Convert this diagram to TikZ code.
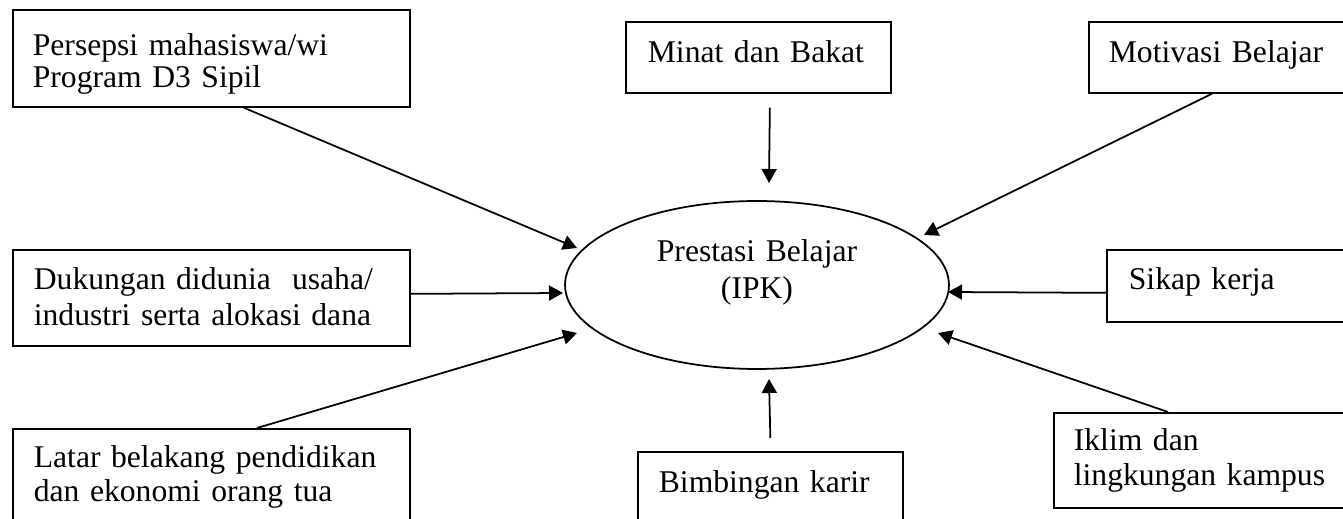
\documentclass[tikz,border=0pt]{standalone}
\usepackage{fontspec}
\setmainfont{Liberation Serif}
\usetikzlibrary{shapes.geometric, arrows.meta}

\begin{document}
\begin{tikzpicture}[x=0.02cm, y=-0.02cm,
  factor/.style={draw, line width=1pt, anchor=north west, align=left,
    inner ysep=0pt, font=\fontsize{18pt}{20pt}\selectfont},
  target/.style={draw, ellipse, line width=1pt, inner sep=0pt,
    minimum width=7.68cm, minimum height=3.36cm, text width=4.5cm,
    align=center, text height=0.5cm, text depth=1.42cm,
    font=\fontsize{18pt}{20.5pt}\selectfont},
  arr/.style={line width=1pt, -{Triangle[length=0.28cm, width=0.3cm]}}]

  % Frame of the picture
  \path[use as bounding box, fill=white] (0,0) rectangle (1343,519);
  \clip (0,0) rectangle (1343,519);

  % Central ellipse
  \node[target] (ipk) at (757,285) {Prestasi Belajar\\(IPK)};

  % Boxes on the left
  \node[factor, text width=7.14cm, inner xsep=0.4cm, text height=0.92cm, text depth=1.02cm,
    font=\fontsize{18pt}{18pt}\selectfont] (persepsi) at (12,9)
    {Persepsi mahasiswa/wi\\Program D3 Sipil};
  \node[factor, text width=7.1cm, inner xsep=0.42cm, text height=0.8cm, text depth=1.12cm,
    font=\fontsize{18pt}{20.5pt}\selectfont] (dukungan) at (12,249)
    {Dukungan didunia\ \ usaha/\\industri serta alokasi dana};
  \node[factor, text width=7.1cm, inner xsep=0.42cm, text height=0.78cm, text depth=1.46cm,
    font=\fontsize{18pt}{19pt}\selectfont] (latar) at (12,428)
    {Latar belakang pendidikan\\dan ekonomi orang tua};

  % Boxes in the middle
  \node[factor, text width=4.42cm, inner xsep=0.44cm, text height=0.82cm, text depth=0.6cm]
    (minat) at (625,21) {Minat dan Bakat};
  \node[factor, text width=4.46cm, inner xsep=0.42cm, text height=0.82cm, text depth=0.96cm]
    (bimbingan) at (637,451) {Bimbingan karir};

  % Boxes on the right (cut by the frame)
  \node[factor, text width=4.64cm, inner xsep=0.4cm, text height=0.82cm, text depth=0.6cm]
    (motivasi) at (1088,21) {Motivasi Belajar};
  \node[factor, text width=4.2cm, inner xsep=0.44cm, text height=0.8cm, text depth=0.64cm]
    (sikap) at (1106,249) {Sikap kerja};
  \node[factor, text width=5.34cm, inner xsep=0.4cm, text height=0.76cm, text depth=1.14cm,
    font=\fontsize{18pt}{19.5pt}\selectfont] (iklim) at (1053,412)
    {Iklim dan\\lingkungan kampus};

  % Arrows into the ellipse
  \draw[arr] ([shift={(32.5,0)}]persepsi.south) -- ([shift={(-180,-37)}]ipk.center);
  \draw[arr] ([shift={(11.5,14)}]minat.south) -- ([shift={(12,-102)}]ipk.center);
  \draw[arr] ([shift={(124,0)}]motivasi.south west) -- ([shift={(167,-50)}]ipk.center);
  \draw[arr] ([shift={(0,-4)}]dukungan.east) -- ([shift={(-194,8)}]ipk.center);
  \draw[arr] ([shift={(0,7)}]sikap.west) -- ([shift={(191,7)}]ipk.center);
  \draw[arr] ([shift={(245,0)}]latar.north west) -- ([shift={(-180,48)}]ipk.center);
  \draw[arr] ([shift={(0,-13)}]bimbingan.north) -- ([shift={(12,94)}]ipk.center);
  \draw[arr] ([shift={(115,0)}]iklim.north west) -- ([shift={(181,48)}]ipk.center);

\end{tikzpicture}
\end{document}
